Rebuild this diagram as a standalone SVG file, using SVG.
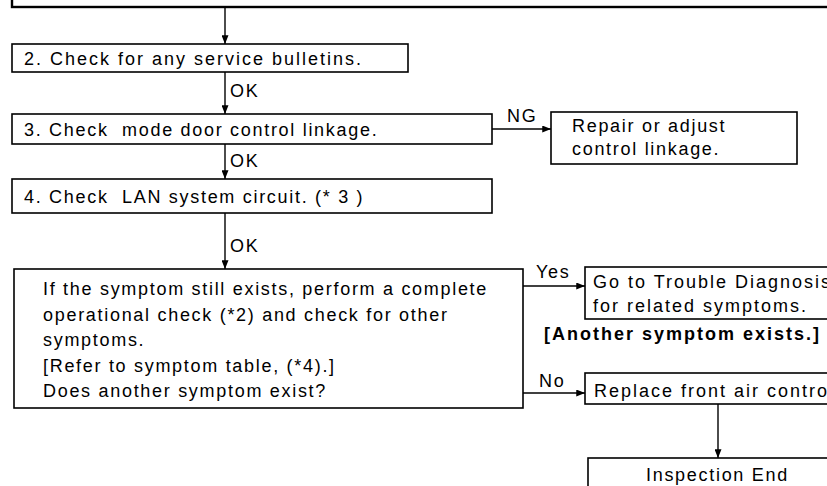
<svg xmlns="http://www.w3.org/2000/svg" width="827" height="486" viewBox="0 0 827 486">
<defs>
<style>
.box{fill:#fff;stroke:#000;stroke-width:1.6}
.t{font-family:"Liberation Sans",Arial,sans-serif;font-size:18px;letter-spacing:1.7px;fill:#000}
.w{letter-spacing:2px}
.b{font-weight:bold;letter-spacing:2px}
.c{stroke:#000;stroke-width:1.4;fill:none;marker-end:url(#ah)}
</style>
<marker id="ah" viewBox="0 0 10 8" refX="10" refY="4" markerWidth="9" markerHeight="7" markerUnits="userSpaceOnUse" orient="auto"><path d="M0,0L10,4L0,8z" fill="#000"/></marker>
</defs>
<rect width="827" height="486" fill="#fff"/>
<g id="connectors">
<path class="c" d="M225,7V44"/>
<path class="c" d="M225,72V114"/>
<path class="c" d="M492,129H551"/>
<path class="c" d="M225,144V179"/>
<path class="c" d="M225,213V269"/>
<path class="c" d="M523,286H585"/>
<path class="c" d="M523,393H585"/>
<path class="c" d="M718,404V458"/>
<text class="t" x="230" y="97">OK</text>
<text class="t" x="507" y="122">NG</text>
<text class="t" x="230" y="167">OK</text>
<text class="t" x="230" y="252">OK</text>
<text class="t" x="536" y="278">Yes</text>
<text class="t" x="539" y="387">No</text>
</g>
<g id="n1"><rect class="box" x="12" y="-10" width="830" height="17" style="stroke-width:2.4"/></g>
<g id="n2"><rect class="box" x="12" y="44" width="396" height="28"/><text class="t w" x="24" y="65">2. Check for any service bulletins.</text></g>
<g id="n3"><rect class="box" x="12" y="114" width="480" height="30"/><text class="t" x="24" y="136" xml:space="preserve">3. Check  mode door control linkage.</text></g>
<g id="n3ng"><rect class="box" x="551" y="112" width="246" height="52"/><text class="t" x="572" y="132">Repair or adjust</text><text class="t" x="572" y="155">control linkage.</text></g>
<g id="n4"><rect class="box" x="12" y="179" width="480" height="34"/><text class="t" x="24" y="203" xml:space="preserve">4. Check  LAN system circuit. (* 3 )</text></g>
<g id="n5"><rect class="box" x="14" y="269" width="509" height="139"/>
<text class="t" x="43" y="295">If the symptom still exists, perform a complete</text>
<text class="t" x="43" y="320.5">operational check (*2) and check for other</text>
<text class="t" x="43" y="346">symptoms.</text>
<text class="t" x="43" y="371.5">[Refer to symptom table, (*4).]</text>
<text class="t" x="43" y="397">Does another symptom exist?</text>
</g>
<g id="n6"><rect class="box" x="585" y="267" width="260" height="52"/><text class="t w" x="593" y="288">Go to Trouble Diagnosis</text><text class="t w" x="593" y="312">for related symptoms.</text><text class="t b" x="544" y="340">[Another symptom exists.]</text></g>
<g id="n7"><rect class="box" x="585" y="373" width="260" height="31"/><text class="t w" x="594" y="397">Replace front air control</text></g>
<g id="n8"><rect class="box" x="588" y="458" width="260" height="40"/><text class="t" x="646" y="481">Inspection End</text></g>
</svg>
